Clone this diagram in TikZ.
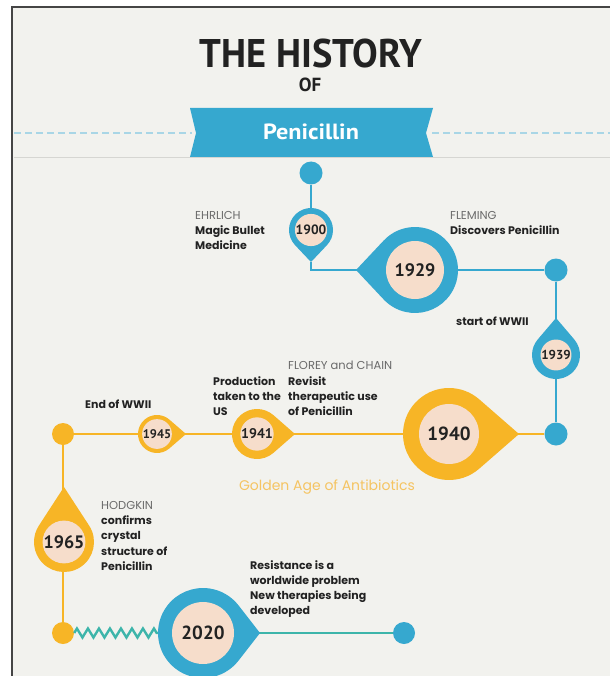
\documentclass[tikz,border=0pt]{standalone}
\usepackage{fontspec}
\usepackage{graphicx}
\setmainfont{Poppins}
\newfontfamily\titlefont{PT Sans}
\usetikzlibrary{calc,decorations.pathmorphing}
\definecolor{bg}{HTML}{F2F2EE}
\definecolor{frame}{HTML}{454545}
\definecolor{pblue}{HTML}{36A8CF}
\definecolor{porange}{HTML}{F7B526}
\definecolor{peach}{HTML}{F6DDCB}
\definecolor{pteal}{HTML}{3DB5AA}
\definecolor{dark}{HTML}{222222}
\definecolor{greytext}{HTML}{6A6A6A}
\definecolor{gold}{HTML}{F5C462}
\definecolor{dashblue}{HTML}{A9D6E6}
\definecolor{rule}{HTML}{D6D6D2}
\tikzset{
  lbl/.style={anchor=north west, align=left, inner sep=0pt, text=dark,
    font=\fontsize{11}{15.3}\selectfont\bfseries},
  dot/.style={circle, inner sep=0pt, minimum size=23pt},
  blueline/.style={draw=pblue, line width=2.4pt},
  orangeline/.style={draw=porange, line width=2.4pt},
  tealline/.style={draw=pteal, line width=2.4pt},
}
\newcommand\hd[1]{{\mdseries\color{greytext}\fontsize{11.5}{15.3}\selectfont#1}}
% \droppin{name}{center}{outer r}{dir}{tip dist}{colour}{inner r}{font size}{label}
\newcommand\droppin[9]{%
  \pgfmathsetmacro\pinang{acos(#3/#5)}%
  \coordinate (#1tip) at ($(#2)+(#4:#5)$);
  \fill[#6] (#1tip) -- ($(#2)+(#4+\pinang:#3)$)
     arc[start angle=#4+\pinang, end angle=#4-\pinang+360, radius=#3] -- cycle;
  \node[circle, fill=peach, inner sep=0pt, minimum size={2*#7pt}, text=dark,
    font=\titlefont\bfseries\fontsize{#8}{#8}\selectfont] (#1) at (#2) {#9};
}
\begin{document}
\begin{tikzpicture}[x=1pt,y=-1pt]
\useasboundingbox (0,0) rectangle (610,676);
\fill[white] (0,0) rectangle (610,676);
\fill[bg] (12,7) rectangle (610,676);
\draw[frame, line width=2.6pt] (12,676) -- (12,7) -- (610,7);

% title
\node[text=dark, inner sep=0pt] (title) at (311,54)
  {\titlefont\bfseries\fontsize{40}{40}\selectfont\scalebox{0.96}[1]{THE HISTORY}};
\node[text=dark, inner sep=0pt] (of) at (310,85)
  {\titlefont\bfseries\fontsize{19}{19}\selectfont OF};

% rules
\draw[rule, line width=1pt] (14,158) -- (610,158);
\draw[dashblue, line width=1.2pt, dash pattern=on 7pt off 4pt] (14,133) -- (192,133);
\draw[dashblue, line width=1.2pt, dash pattern=on 7pt off 4pt] (432,133) -- (610,133);
\fill[pblue] (190,108) -- (433,108) -- (426,133) -- (433,157) -- (190,157) -- (196,133) -- cycle;
\node[text=white, inner sep=0pt] (banner) at (311,132)
  {\titlefont\bfseries\fontsize{22}{22}\selectfont\scalebox{1.1}[1]{Penicillin}};

% coordinates
\coordinate (c1900) at (311,230);
\coordinate (c1929) at (415,270);
\coordinate (c1939) at (556,355);
\coordinate (c1940) at (449,434);
\coordinate (c1941) at (257,434);
\coordinate (c1945) at (157,434);
\coordinate (c1965) at (64,542);
\coordinate (c2020) at (203,633);

% dots
\node[dot, fill=pblue] (d0) at (311,173) {};
\node[dot, fill=pblue] (d1) at (556,270) {};
\node[dot, fill=pblue] (d2) at (556,434) {};
\node[dot, fill=porange, minimum size=22pt] (d3) at (63,434) {};
\node[dot, fill=porange, minimum size=22pt] (d4) at (63,633) {};
\node[dot, fill=pblue, minimum size=22pt] (d5) at (404,633) {};

% connectors
\draw[blueline] (d0) -- (c1900);
\draw[blueline] (c1929) -- (d1);
\draw[blueline] (d1) -- (d2);
\draw[orangeline] (d2) -- (d3);
\draw[orangeline] (d3) -- (d4);
\draw[tealline] (c2020) -- (d5);
\draw[tealline, decorate, decoration={zigzag, segment length=11pt, amplitude=4.5pt}]
  (d4.east) -- ($(c2020)+(-44,0)$);

% pins
\droppin{p1900}{c1900}{22}{90}{32}{pblue}{13}{13.5}{1900}
\draw[blueline] (p1900tip) |- (c1929);
\droppin{p1929}{c1929}{43}{180}{59}{pblue}{29}{18}{1929}
\droppin{p1939}{c1939}{24}{270}{37}{pblue}{15}{13}{1939}
\droppin{p1940}{c1940}{46}{0}{70}{porange}{30}{19}{1940}
\droppin{p1941}{c1941}{25}{0}{38}{porange}{16}{14}{1941}
\droppin{p1945}{c1945}{19}{0}{29}{porange}{12}{12.5}{1945}
\droppin{p1965}{c1965}{30}{270}{55}{porange}{21}{18}{1965}
\droppin{p2020}{c2020}{45}{0}{57}{pblue}{31}{19}{2020}

% labels
\node[lbl] (tEhrlich) at (195,211) {\hd{EHRLICH}\\Magic Bullet\\Medicine};
\node[lbl] (tFleming) at (450,211) {\hd{FLEMING}\\Discovers Penicillin};
\node[lbl] (tWar) at (456,317) {start of WWII};
\node[lbl] (tFlorey) at (288,361) {\hd{FLOREY and CHAIN}\\Revisit\\therapeutic use\\of Penicillin};
\node[lbl] (tProd) at (213,376.3) {Production\\taken to the\\US};
\node[lbl] (tEnd) at (85,400) {End of WWII};
\node[inner sep=0pt, text=gold, font=\fontsize{14}{16}\selectfont] (tGold) at (327,487) {Golden Age of Antibiotics};
\node[lbl] (tHodg) at (101,501) {\hd{HODGKIN}\\confirms\\crystal\\structure of\\Penicillin};
\node[lbl] (tRes) at (250,560) {Resistance is a\\worldwide problem\\New therapies being\\developed};
\end{tikzpicture}
\end{document}
